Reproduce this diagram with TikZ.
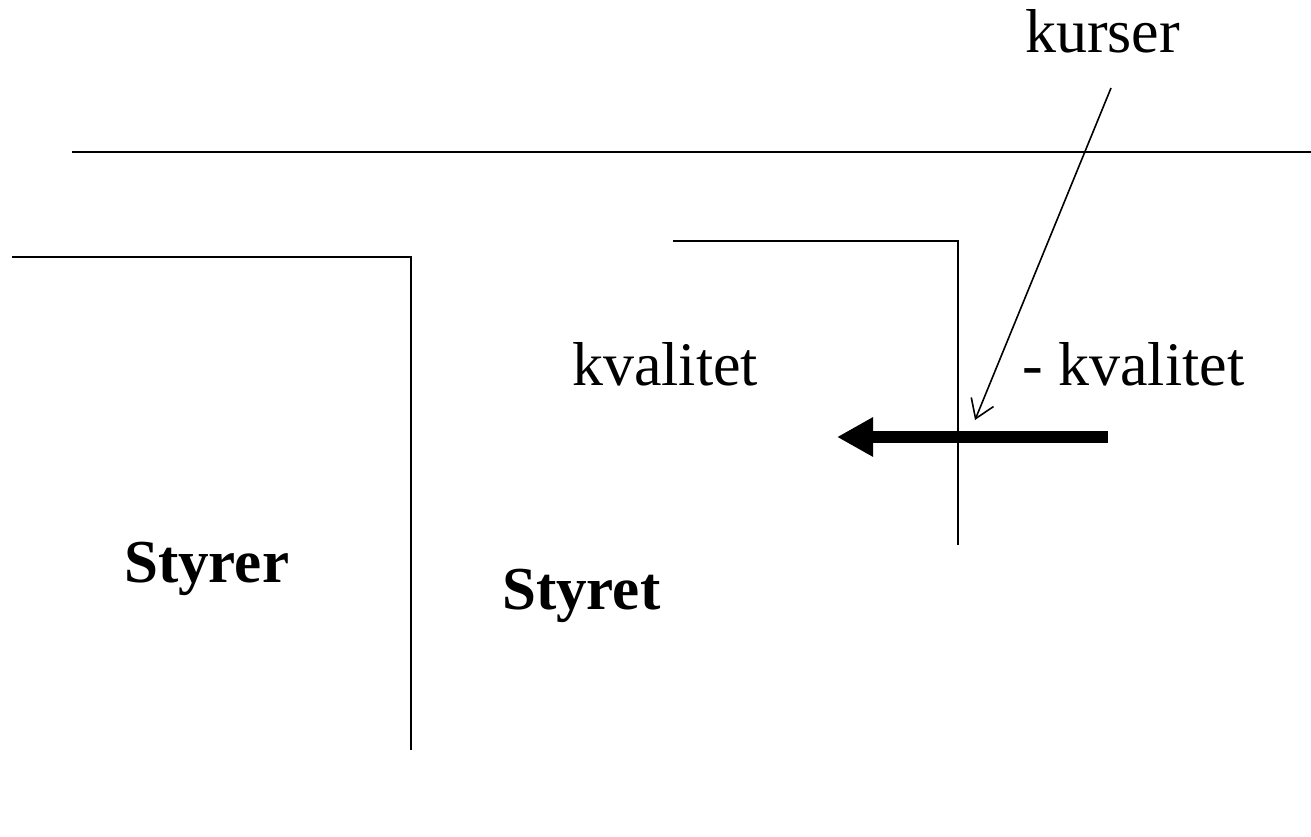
\documentclass[tikz,border=0pt]{standalone}
\usepackage{fontspec}
\setmainfont{Liberation Serif}
\usetikzlibrary{arrows.meta}
\begin{document}
\begin{tikzpicture}[x=1pt,y=-1pt,
  lbl/.style={anchor=base west,inner sep=0pt,font=\fontsize{62}{70}\selectfont},
  blbl/.style={anchor=base west,inner sep=0pt,font=\fontsize{61}{70}\selectfont\bfseries},
  thin/.style={line width=1.6pt},
  ptr/.style={line width=1.6pt,-{Straight Barb[length=18pt,width=24pt,line width=1.6pt]}},
  bigarrow/.style={line width=12pt,-{Triangle[length=36pt,width=37pt]}}]
\useasboundingbox (0,0) rectangle (1311,837);
% lines
\draw[thin] (72,152) -- (1311,152);
\draw[thin] (12,257) -- (411,257) -- (411,750);
\draw[thin] (673,241) -- (958,241) -- (958,545);
% texts
\node[lbl] (kurser) at (1025,53) {kurser};
\node[lbl] (kval) at (572,385) {kvalitet};
\node[lbl] (mkval) at (1022,385) {- kvalitet};
\node[blbl] (styrer) at (124,582) {Styrer};
\node[blbl] (styret) at (502,609) {Styret};
% arrows
\coordinate (ps) at (1111,88);
\coordinate (pe) at (975,420);
\draw[ptr] (ps) -- (pe);
\coordinate (as) at (1108,437);
\coordinate (ae) at (837,437);
\draw[bigarrow] (as) -- (ae);
\end{tikzpicture}
\end{document}
